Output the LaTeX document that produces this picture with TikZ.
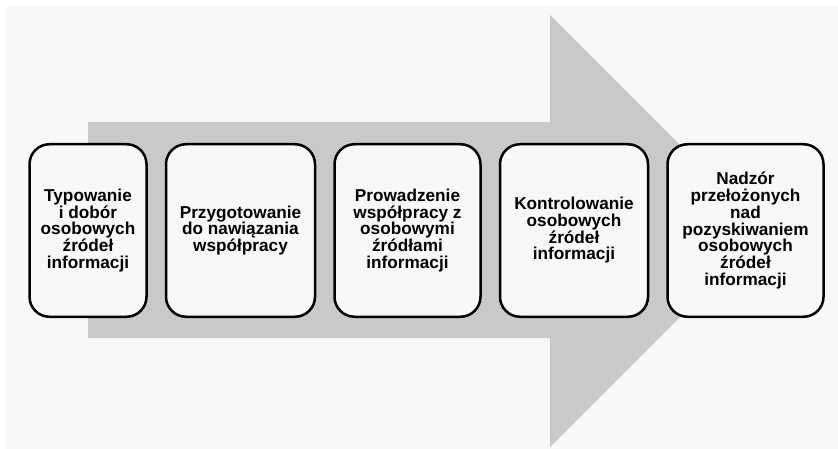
\documentclass[tikz,border=0pt]{standalone}
\usepackage{fontspec}
\setmainfont{Liberation Sans}
\usetikzlibrary{positioning}

\definecolor{tlo}{RGB}{248,248,248}
\definecolor{strzalka}{RGB}{201,201,201}
\tikzset{etap/.style={draw, line width=2.5pt, rounded corners=20pt, fill=tlo, minimum height=172.5pt, inner sep=2pt, align=center, font=\bfseries\fontsize{17.2}{16.7}\selectfont}}

\begin{document}
\begin{tikzpicture}[x=1pt, y=-1pt]
\useasboundingbox (0,0) rectangle (838,449);
\fill[white] (0,0) rectangle (838,449);
\fill[tlo] (6,6) rectangle (838,449);
\fill[strzalka] (88,122) -- (550,122) -- (550,15) -- (766,231) -- (550,447) -- (550,338) -- (88,338) -- cycle;
\node[etap, minimum width=117pt] at(88,230.5) (typowanie) {Typowanie\\i dobór\\osobowych\\źródeł\\informacji};
\node[etap, minimum width=149pt, right=17pt of typowanie] (przygotowanie) {Przygotowanie\\do nawiązania\\współpracy};
\node[etap, minimum width=146pt, right=17pt of przygotowanie] (prowadzenie) {Prowadzenie\\współpracy z\\osobowymi\\źródłami\\informacji};
\node[etap, minimum width=148pt, right=17pt of prowadzenie] (kontrolowanie) {Kontrolowanie\\osobowych\\źródeł\\informacji};
\node[etap, minimum width=156pt, right=17pt of kontrolowanie] (nadzor) {Nadzór\\przełożonych\\nad\\pozyskiwaniem\\osobowych\\źródeł\\informacji};
\end{tikzpicture}
\end{document}
